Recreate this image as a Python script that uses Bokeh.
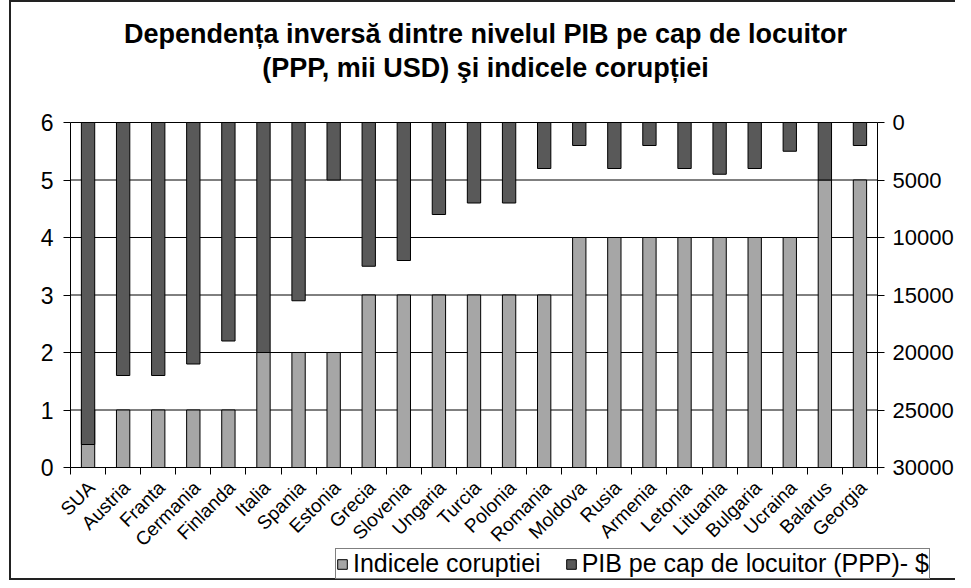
import math
from bokeh.plotting import figure
from bokeh.models import (Range1d, LinearAxis, FixedTicker, Label, Legend, LegendItem,
                          ColumnDataSource, CustomJSTickFormatter)
from bokeh.embed import file_html
from bokeh.resources import INLINE

# ---- data ----
countries = ["SUA", "Austria", "Franta", "Cermania", "Finlanda", "Italia", "Spania",
             "Estonia", "Grecia", "Slovenia", "Ungaria", "Turcia", "Polonia", "Romania",
             "Moldova", "Rusia", "Armenia", "Letonia", "Lituania", "Bulgaria", "Ucraina",
             "Balarus", "Georgia"]
corruption = [1, 1, 1, 1, 1, 2, 2, 2, 3, 3, 3, 3, 3, 3, 4, 4, 4, 4, 4, 4, 4, 5, 5]
pib = [28000, 22000, 22000, 21000, 19000, 20000, 15500, 5000, 12500, 12000, 8000, 7000,
       7000, 4000, 2000, 4000, 2000, 4000, 4500, 4000, 2500, 5000, 2000]
left_ticks = [0, 1, 2, 3, 4, 5, 6]
right_ticks = [0, 5000, 10000, 15000, 20000, 25000, 30000]

title_line1 = "Dependența inversă dintre nivelul PIB pe cap de locuitor"
title_line2 = "(PPP, mii USD) şi indicele corupției"
label_corr = "Indicele coruptiei"
label_pib = "PIB pe cap de locuitor (PPP)- $"

FONT = "Liberation Sans"
GRAY = "#A6A6A6"
DARK = "#595959"

# ---- layout (pixels on the canvas) ----
W, H = 955, 580
PL, PR, PT, PB = 70, 877, 122, 467      # plot-area edges
LABEL_SHIFT = 0.1                        # category labels sit a little right of bar centre

n = len(countries)
xs = list(range(n))
x_lo, x_hi = -0.5, n - 0.5
y_lo, y_hi = left_ticks[0], left_ticks[-1]
r_lo, r_hi = right_ticks[-1], right_ticks[0]      # inverted secondary axis

xpp = (x_hi - x_lo) / (PR - PL)
ypp = (y_hi - y_lo) / (PB - PT)
rpp = (r_lo - r_hi) / (PB - PT)
x_range = Range1d(x_lo - PL * xpp, x_hi + (W - PR) * xpp)
y_range = Range1d(y_lo - (H - PB) * ypp, y_hi + PT * ypp)
r_range = Range1d(start=r_lo + (H - PB) * rpp, end=r_hi - PT * rpp)

src = ColumnDataSource(dict(x=xs, corr=corruption, pib=pib, zero=[0] * n))

p = figure(width=W, height=H, output_backend="svg", toolbar_location=None,
           x_range=x_range, y_range=y_range,
           min_border=0, border_fill_color=None, background_fill_color=None,
           outline_line_color=None, x_axis_type=None, y_axis_type=None,
           styles={"box-shadow": "inset 9px 0 0 0 white, inset 11px 0 0 0 #222, "
                                 "inset 0 2px 0 0 #222, inset 0 -2px 0 0 #222"})
p.extra_y_ranges = {"pib": r_range}
p.grid.visible = False

# horizontal grid lines at the left-axis ticks
p.segment(x0=[x_lo] * len(left_ticks), x1=[x_hi] * len(left_ticks),
          y0=left_ticks, y1=left_ticks, line_color="black", line_width=1)

# bars
r1 = p.vbar(x="x", top="corr", bottom=0, width=0.38, source=src,
            fill_color=GRAY, line_color="black", line_width=1)
r2 = p.vbar(x="x", top="zero", bottom="pib", width=0.38, source=src, y_range_name="pib",
            fill_color=DARK, line_color="black", line_width=1)

# x axis at y = 0
xa = LinearAxis(fixed_location=y_lo, bounds=(x_lo, x_hi))
xa.ticker = FixedTicker(ticks=[i + LABEL_SHIFT for i in xs],
                        minor_ticks=[i - 0.5 for i in range(n + 1)])
xa.formatter = CustomJSTickFormatter(args=dict(names=countries, shift=LABEL_SHIFT),
                                     code="return names[Math.round(tick - shift)] || ''")
xa.major_label_orientation = math.pi / 4
xa.major_tick_line_color = None
xa.major_tick_out = 0
xa.major_tick_in = 0
xa.minor_tick_line_color = "black"
xa.minor_tick_out = 7
xa.minor_tick_in = 0
xa.major_label_standoff = 10
xa.major_label_text_font = FONT
xa.major_label_text_font_size = "19px"
xa.major_label_text_color = "black"
xa.axis_line_color = "black"
p.add_layout(xa, "below")

# left axis
ya = LinearAxis(fixed_location=x_lo, bounds=(y_lo, y_hi),
                ticker=FixedTicker(ticks=left_ticks))
ya.minor_tick_line_color = None
ya.major_tick_out = 7
ya.major_tick_in = 0
ya.major_tick_line_color = "black"
ya.axis_line_color = "black"
ya.major_label_standoff = 10
ya.major_label_text_font = FONT
ya.major_label_text_font_size = "23px"
ya.major_label_text_color = "black"
p.add_layout(ya, "left")

# right axis (inverted)
ra = LinearAxis(y_range_name="pib", fixed_location=x_hi, bounds=(r_hi, r_lo),
                ticker=FixedTicker(ticks=right_ticks))
ra.minor_tick_line_color = None
ra.major_tick_out = 7
ra.major_tick_in = 0
ra.major_tick_line_color = "black"
ra.axis_line_color = "black"
ra.major_label_standoff = 8
ra.major_label_text_font = FONT
ra.major_label_text_font_size = "22px"
ra.major_label_text_color = "black"
p.add_layout(ra, "right")

# title (two centred lines)
for txt, yc in ((title_line1, 33), (title_line2, 67)):
    p.add_layout(Label(x=485, y=H - yc, x_units="screen", y_units="screen", text=txt,
                       text_align="center", text_baseline="middle", text_font=FONT,
                       text_font_size="27px", text_font_style="bold",
                       text_color="black"))

# legend
legend = Legend(items=[LegendItem(label=label_corr, renderers=[r1]),
                       LegendItem(label=label_pib, renderers=[r2])],
                orientation="horizontal", location=(335, 1),
                label_text_font=FONT, label_text_font_size="25px", label_text_color="black",
                label_text_line_height=0.85, label_height=22, glyph_width=12,
                glyph_height=12, label_standoff=5, spacing=24, padding=0, margin=0,
                border_line_color="black", border_line_width=1,
                background_fill_color="white", background_fill_alpha=1)
p.add_layout(legend, "center")

open("out.html", "w").write(file_html(p, INLINE))
